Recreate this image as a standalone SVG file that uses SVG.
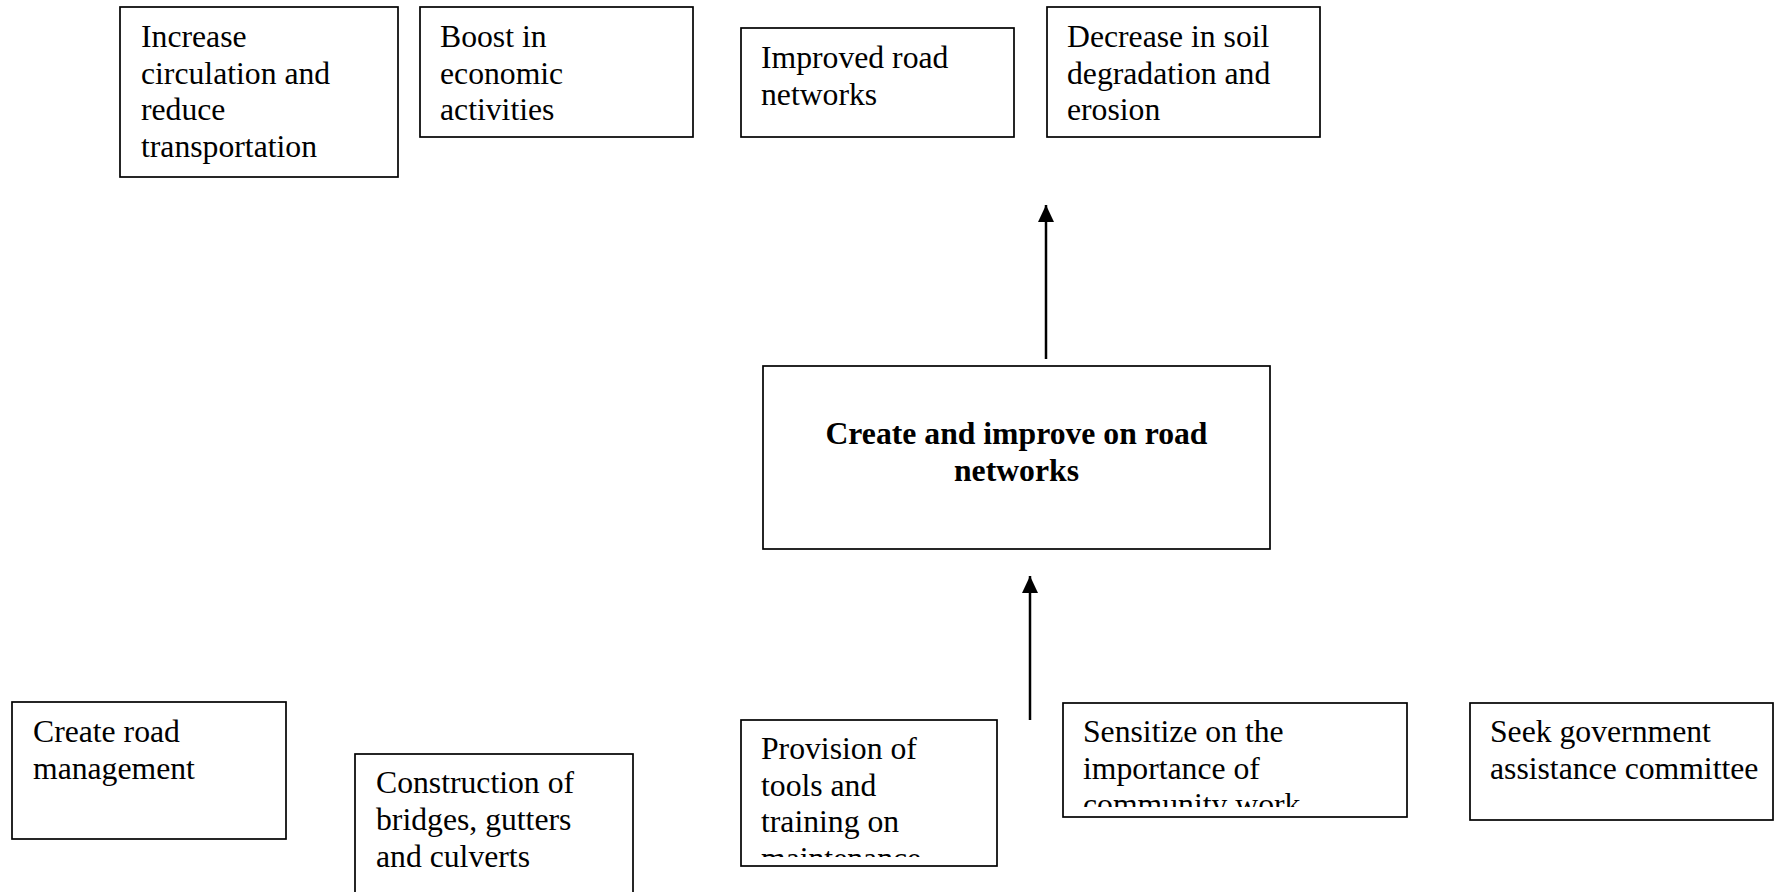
<svg xmlns="http://www.w3.org/2000/svg" width="1775" height="892" viewBox="0 0 1775 892">
  <style>
    .box { fill: #ffffff; stroke: #000000; stroke-width: 1.7; }
    .txt { font-family: "Liberation Serif", "Times New Roman", serif; font-size: 31.7px; fill: #000000; }
    .bold { font-weight: bold; text-anchor: middle; }
    .link { stroke: #000000; stroke-width: 2.5; fill: none; marker-end: url(#head); }
  </style>
  <defs>
    <marker id="head" markerUnits="userSpaceOnUse" markerWidth="17" markerHeight="17" viewBox="0 0 17 17" refX="17" refY="8.5" orient="auto">
      <path d="M0,0.5 L17,8.5 L0,16.5 Z" fill="#000000"/>
    </marker>
    <clipPath id="clip-provision"><rect x="741" y="720" width="256" height="137"/></clipPath>
    <clipPath id="clip-sensitize"><rect x="1063" y="703" width="344" height="104"/></clipPath>
  </defs>
  <rect width="1775" height="892" fill="#ffffff"/>

  <!-- outcomes -->
  <g id="node-circulation">
    <rect class="box" x="120" y="7" width="278" height="170"/>
    <text class="txt" x="141" y="47">Increase</text>
    <text class="txt" x="141" y="83.7">circulation and</text>
    <text class="txt" x="141" y="120.4">reduce</text>
    <text class="txt" x="141" y="157.1">transportation</text>
  </g>
  <g id="node-economy">
    <rect class="box" x="420" y="7" width="273" height="130"/>
    <text class="txt" x="440" y="47">Boost in</text>
    <text class="txt" x="440" y="83.7">economic</text>
    <text class="txt" x="440" y="120.4">activities</text>
  </g>
  <g id="node-roads">
    <rect class="box" x="741" y="28" width="273" height="109"/>
    <text class="txt" x="761" y="68">Improved road</text>
    <text class="txt" x="761" y="104.7">networks</text>
  </g>
  <g id="node-soil">
    <rect class="box" x="1047" y="7" width="273" height="130"/>
    <text class="txt" x="1067" y="47">Decrease in soil</text>
    <text class="txt" x="1067" y="83.7">degradation and</text>
    <text class="txt" x="1067" y="120.4">erosion</text>
  </g>

  <!-- core objective -->
  <g id="node-core">
    <rect class="box" x="763" y="366" width="507" height="183"/>
    <text class="txt bold" x="1016.5" y="444">Create and improve on road</text>
    <text class="txt bold" x="1016.5" y="481">networks</text>
  </g>

  <!-- activities -->
  <g id="node-management">
    <rect class="box" x="12" y="702" width="274" height="137"/>
    <text class="txt" x="33" y="742">Create road</text>
    <text class="txt" x="33" y="779">management</text>
  </g>
  <g id="node-construction">
    <rect class="box" x="355" y="754" width="278" height="160"/>
    <text class="txt" x="376" y="793">Construction of</text>
    <text class="txt" x="376" y="830">bridges, gutters</text>
    <text class="txt" x="376" y="867">and culverts</text>
  </g>
  <g id="node-provision">
    <rect class="box" x="741" y="720" width="256" height="146"/>
    <g clip-path="url(#clip-provision)">
      <text class="txt" x="761" y="759">Provision of</text>
      <text class="txt" x="761" y="795.7">tools and</text>
      <text class="txt" x="761" y="832.4">training on</text>
      <text class="txt" x="761" y="869.1">maintenance</text>
    </g>
  </g>
  <g id="node-sensitize">
    <rect class="box" x="1063" y="703" width="344" height="114"/>
    <g clip-path="url(#clip-sensitize)">
      <text class="txt" x="1083" y="742">Sensitize on the</text>
      <text class="txt" x="1083" y="778.7">importance of</text>
      <text class="txt" x="1083" y="815.4">community work</text>
    </g>
  </g>
  <g id="node-government">
    <rect class="box" x="1470" y="703" width="303" height="117"/>
    <text class="txt" x="1490" y="742">Seek government</text>
    <text class="txt" x="1490" y="778.7">assistance committee</text>
  </g>

  <!-- connectors -->
  <g id="connectors">
    <line class="link" x1="1046" y1="359" x2="1046" y2="205"/>
    <line class="link" x1="1030" y1="720" x2="1030" y2="576"/>
  </g>
</svg>
